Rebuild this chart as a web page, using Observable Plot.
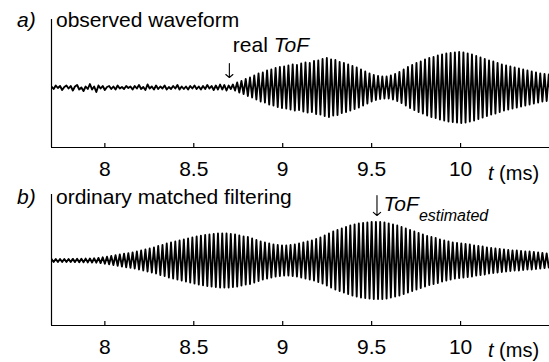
<!DOCTYPE html>
<html>
<head>
<meta charset="utf-8">
<script src="https://cdn.jsdelivr.net/npm/d3@7"></script>
<script src="https://cdn.jsdelivr.net/npm/@observablehq/plot@0.6"></script>
<style>
  body { margin: 0; background: #fff; }
  #chart svg { display: block; }
  #chart svg text.ann { font-size: 21px; text-anchor: start; }
</style>
</head>
<body>
<div id="chart"></div>
<script>
// ---- data ----
const xDomain = [7.7, 10.5];            // t (ms)
const xTicks = [8, 8.5, 9, 9.5, 10];
const realToF = 8.7;                    // ms
const estToF = 9.53;                    // ms
const halfPeriod = 0.012;               // half carrier period (ms)
const noiseStart = 7.7;                 // observed noise samples start (ms)
const signalStart = 8.72;               // observed echo start (ms)
const filteredStart = 7.7;              // filtered output start (ms)

// observed waveform: pre-arrival noise samples (one per half period)
const obsNoise = [
  1, -1.5, 2, -0.5, 1.5, -2.5, 0.5, 2, -1, 1.5,
  -3, 1, 2.5, -2, 0, -3.5, 1, -1.5, 3.5, -2,
  1, -4.5, 2, -1, 1.5, -2.5, 0.5, 1.5, -1.5, 1,
  -2, 2, -1, 0.5, -1.5, 1.5, -0.5, 1, -2, 1.5,
  -1, 2.5, -1.5, 0.5, -2.5, 3, -1, 1, -2, 2,
  -1.5, 1, -1, 2, -2, 0.5, -1.5, 1.5, -1, 2.5,
  -2, 1, -1.5, 1, -2, 1.5, -1, 2, -1.5, 1,
  -2, 1.5, -1.5, 2.5, -1, 1.5, -2.5, 2, -2, 3,
  -2, 2.5, -3, 2, -1.5
];
// observed waveform: peak amplitude of each carrier cycle after arrival
const obsAmp = [
  3, 5, 6.5, 8.5, 10, 12, 14, 15, 17, 18,
  19.5, 20.5, 21, 22, 23, 22.5, 24, 25, 24.5, 26.5,
  27, 28.5, 29.5, 28, 27.5, 25.5, 24.5, 23, 21.5, 20,
  18, 16, 14, 12.5, 11.5, 11, 11, 12, 13.5, 15.5,
  18, 20.5, 22.5, 24.5, 26, 28, 29.5, 30.5, 32, 33,
  34, 34.5, 35, 35.5, 35, 34, 33, 31.5, 30, 28.5,
  27, 26, 24.5, 23, 22, 21, 20, 19, 18, 17,
  16, 15, 14, 13.5, 13
];
// ordinary matched filtering: peak amplitude of each carrier cycle
const filtAmp = [
  1.5, 1.5, 1.5, 1.5, 1.5, 1.6, 1.7, 1.8, 1.9, 2,
  2.2, 2.6, 3.2, 3.8, 4.5, 5.2, 6, 6.8, 7.4, 8,
  9, 10, 11, 12, 13, 14.5, 15.5, 17, 18, 19,
  20, 21, 22, 23, 24, 24.8, 25.5, 26, 26.5, 27,
  27, 27, 26.5, 26, 25, 24, 23.5, 22, 20.5, 19,
  18, 17, 16, 15.5, 15, 15, 15.5, 16, 17, 18,
  19, 20, 21.5, 23, 25, 27, 29, 30.5, 32, 33.5,
  35, 36, 37, 37.5, 38, 38.5, 38.5, 38.5, 38, 37,
  36, 35, 33.5, 32, 30.5, 29, 27.5, 26, 24.5, 23.5,
  22.5, 21, 20, 19, 18, 17.5, 17, 16.5, 16, 15,
  14.5, 14, 13, 12.5, 12, 11.5, 11, 10.5, 10, 10,
  9.5, 9, 9, 8.5, 8, 7.5, 7
];

// ---- build sample tables ----
const observed = [];
obsNoise.forEach((v, i) => observed.push({t: noiseStart + i * halfPeriod, v}));
obsAmp.forEach((a, c) => {
  observed.push({t: signalStart + 2 * c * halfPeriod, v: a});
  observed.push({t: signalStart + (2 * c + 1) * halfPeriod, v: -a});
});
const filtered = [];
filtAmp.forEach((a, c) => {
  filtered.push({t: filteredStart + 2 * c * halfPeriod, v: a});
  filtered.push({t: filteredStart + (2 * c + 1) * halfPeriod, v: -a});
});

const FONT = "'Liberation Sans', Arial, Helvetica, sans-serif";

function panel({data, height, marginTop, yDomain, arrow}) {
  const y0 = yDomain[0];
  return Plot.plot({
    width: 549, height,
    marginLeft: 51, marginRight: 0, marginTop, marginBottom: 37,
    x: {domain: xDomain, axis: null},
    y: {domain: yDomain, axis: null},
    style: {fontFamily: FONT, fontSize: "21px", background: "white", color: "black", overflow: "visible"},
    marks: [
      Plot.line(data, {x: "t", y: "v", stroke: "black", strokeWidth: 1.9, clip: true}),
      Plot.ruleY([y0], {stroke: "black", strokeWidth: 1.2}),
      Plot.ruleX([xDomain[0]], {stroke: "black", strokeWidth: 1.2}),
      Plot.ruleX(xTicks, {x: d => d, y1: y0, y2: y0 + 4, stroke: "black", strokeWidth: 1.2}),
      Plot.axisX({ticks: xTicks, tickSize: 0, tickPadding: 14, fontSize: 21, tickFormat: d => String(d)}),
      Plot.arrow([arrow], {x1: "x", x2: "x", y1: "y1", y2: "y2", stroke: "black", strokeWidth: 1.1, headLength: 6.5, headAngle: 100})
    ]
  });
}

function addText(svg, x, y, parts, extra = {}) {
  const t = svg.append("text").attr("class", "ann").attr("x", x).attr("y", y)
    .style("font-size", "21px").style("text-anchor", "start");
  for (const [k, v] of Object.entries(extra)) t.style(k, v);
  for (const p of parts) {
    const s = t.append("tspan").text(p.text);
    if (p.italic) s.style("font-style", "italic");
    if (p.size) s.style("font-size", p.size + "px");
    if (p.dy) s.attr("dy", p.dy);
  }
  return t;
}

const chart = document.getElementById("chart");

// panel a
const pa = panel({data: observed, height: 184, marginTop: 19, yDomain: [-60, 68],
  arrow: {x: realToF, y1: 24, y2: 10}});
{
  const svg = d3.select(pa);
  const sx = pa.scale("x"), sy = pa.scale("y");
  addText(svg, 17, 27, [{text: "a)", italic: true}]);
  addText(svg, 56, 27, [{text: "observed waveform"}]);
  addText(svg, sx.apply(realToF) + 4, sy.apply(35), [{text: "real "}, {text: "ToF", italic: true}]);
  addText(svg, 488, 180, [{text: "t", italic: true}, {text: " (ms)"}], {"font-size": "20px"});
}
chart.appendChild(pa);

// panel b
const pb = panel({data: filtered, height: 178, marginTop: 10, yDomain: [-65, 66],
  arrow: {x: estToF, y1: 65, y2: 45}});
{
  const svg = d3.select(pb);
  const sx = pb.scale("x"), sy = pb.scale("y");
  addText(svg, 17, 20, [{text: "b)", italic: true}]);
  addText(svg, 56, 20, [{text: "ordinary matched filtering"}]);
  addText(svg, sx.apply(estToF) + 7, sy.apply(49), [{text: "ToF", italic: true}, {text: "estimated", italic: true, size: 16, dy: 10}]);
  addText(svg, 488, 173, [{text: "t", italic: true}, {text: " (ms)"}], {"font-size": "20px"});
}
chart.appendChild(pb);
</script>
</body>
</html>
